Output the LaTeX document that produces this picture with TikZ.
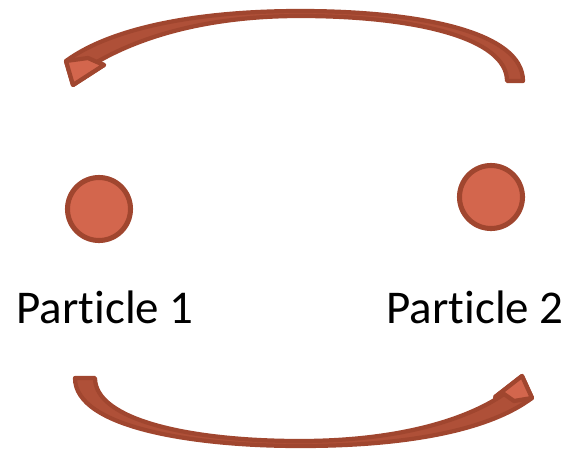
\documentclass[tikz,border=0pt]{standalone}
\usepackage{fontspec}
\setmainfont{Carlito}[Ligatures={NoCommon,NoRequired},Contextuals=NoAlternate]
\usepackage{tikz}
\usetikzlibrary{calc,positioning}
\definecolor{partfill}{HTML}{D3664D}
\definecolor{partedge}{HTML}{A0462F}

\begin{document}
\begin{tikzpicture}[
    x=0.025cm, y=-0.025cm,
    every node/.style={font=\fontsize{33.4}{40}\selectfont},
    particle/.style={circle,fill=partfill,draw=partedge,line width=3.6pt,minimum size=63*0.025cm,inner sep=0pt},
    swoosh/.style={fill=partedge!70!partfill,draw=partedge,line width=3pt,line join=round},
    tip/.style={fill=partfill,draw=partedge,line width=3pt,line join=round},
    lab/.style={anchor=base,inner sep=0pt}
]
\useasboundingbox (0,0) rectangle (566,449);

% the two particles and their names
\node[particle] (p1) at (99,209) {};
\node[particle] (p2) at (491,197) {};
\node[lab] (l1) at (105,323) {Particle 1};
\node[lab] (l2) at (475,323) {Particle 2};

% upper curved arrow, from right to left
\path[swoosh] (523,81) .. controls (523,32) and (420,11) .. (300,11)
    .. controls (190,11) and (108,30) .. (66,61)
    -- (73,85) -- (104,65) -- (97,62)
    .. controls (135,40) and (200,16) .. (300,16)
    .. controls (415,16) and (507,38) .. (507,81) -- cycle;
\path[tip] (66,61) -- (73,85) -- (104,65) -- (97,62) -- (88,58) -- cycle;

% lower curved arrow, from left to right
\path[swoosh] (75,378) .. controls (75,428) and (195,446) .. (300,446)
    .. controls (415,446) and (492,428) .. (532,398)
    -- (522,376) -- (495,397) -- (504,394)
    .. controls (468,419) and (400,441) .. (300,441)
    .. controls (190,441) and (95,420) .. (95,378) -- cycle;
\path[tip] (532,398) -- (522,376) -- (495,397) -- (504,394) -- (514,401) -- cycle;
\end{tikzpicture}
\end{document}
